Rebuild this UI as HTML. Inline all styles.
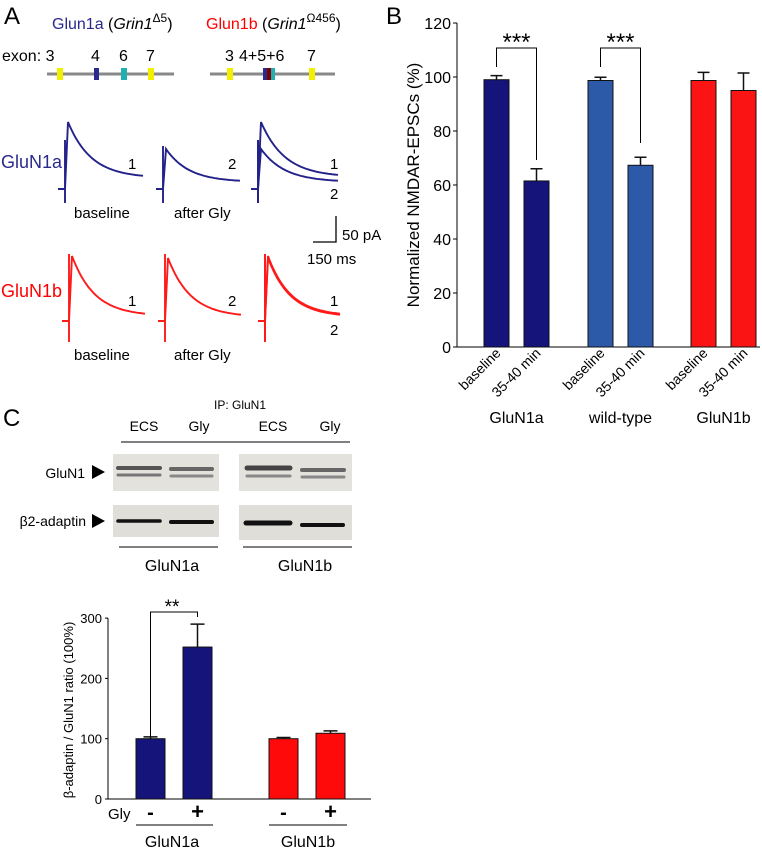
<!DOCTYPE html>
<html><head><meta charset="utf-8"><style>
body{margin:0;background:#fff}
svg{display:block;font-family:"Liberation Sans",Arial,sans-serif}
</style></head><body>
<svg id="fig" width="762" height="854" viewBox="0 0 762 854" xmlns="http://www.w3.org/2000/svg">
<g>
<text x="4" y="24" font-size="24">A</text>
<text x="52" y="29" font-size="16"><tspan fill="#2a2a8c">Glun1a</tspan> (<tspan font-style="italic">Grin1</tspan><tspan dy="-7" font-size="12">Δ5</tspan><tspan dy="7">)</tspan></text>
<text x="206" y="29" font-size="16"><tspan fill="#f00">Glun1b</tspan> (<tspan font-style="italic">Grin1</tspan><tspan dy="-7" font-size="12">Ω456</tspan><tspan dy="7">)</tspan></text>
<text x="2" y="61" font-size="16">exon: 3</text>
<text x="91" y="61" font-size="16">4</text><text x="119" y="61" font-size="16">6</text><text x="146" y="61" font-size="16">7</text>
<text x="225" y="61" font-size="16">3</text><text x="239" y="61" font-size="16">4+5+6</text><text x="307" y="61" font-size="16">7</text>
<line x1="47" y1="74" x2="174" y2="74" stroke="#888" stroke-width="3"/>
<line x1="210" y1="74" x2="335" y2="74" stroke="#888" stroke-width="3"/>
<rect x="57" y="68" width="6" height="12" fill="#f0f000"/><rect x="94" y="68" width="5" height="12" fill="#2a2a8c"/><rect x="121" y="68" width="6" height="12" fill="#20b0b0"/><rect x="148" y="68" width="6" height="12" fill="#f0f000"/>
<rect x="227" y="68" width="6" height="12" fill="#f0f000"/><rect x="263" y="68" width="4" height="12" fill="#2a2a8c"/><rect x="267" y="68" width="4" height="12" fill="#800000"/><rect x="271" y="68" width="4" height="12" fill="#20b0b0"/><rect x="309" y="68" width="6" height="12" fill="#f0f000"/>
<text x="1" y="168" font-size="18" fill="#2a2a8c">GluN1a</text>
<text x="1" y="297" font-size="18" fill="#f00">GluN1b</text>
<g id="traces" fill="none" stroke-width="1.9"></g>
<g font-size="15">
<text x="128" y="169">1</text><text x="228" y="169">2</text><text x="330" y="169">1</text><text x="330" y="199">2</text>
<text x="74" y="218">baseline</text><text x="174" y="218">after Gly</text>
<text x="128" y="306">1</text><text x="228" y="306">2</text><text x="330" y="306">1</text><text x="330" y="335">2</text>
<text x="74" y="360">baseline</text><text x="174" y="360">after Gly</text>
<text x="342" y="240">50 pA</text>
<text x="307" y="264">150 ms</text>
</g>
<path d="M336 216 V242 H313" fill="none" stroke="#000" stroke-width="1.3"/>
</g>
<g>
<text x="386" y="24" font-size="24">B</text>
<g id="chartB"></g>
</g>
<g>
<text x="3" y="426" font-size="24">C</text>
<text x="240" y="409" font-size="12" text-anchor="middle">IP: GluN1</text>
<g font-size="14" text-anchor="middle"><text x="144" y="431">ECS</text><text x="199" y="431">Gly</text><text x="273" y="431">ECS</text><text x="330" y="431">Gly</text></g>
<line x1="121" y1="442" x2="350" y2="442" stroke="#000"/>
<g>
<rect x="113" y="454" width="106" height="37" fill="#e4e2dc"/><rect x="239" y="454" width="113" height="37" fill="#e4e2dc"/>
<rect x="113" y="505" width="106" height="32" fill="#e0ded8"/><rect x="239" y="505" width="113" height="35" fill="#e0ded8"/>
<g stroke="#333" stroke-linecap="round">
<line x1="118" y1="468" x2="160" y2="468" stroke-width="4" stroke="#555"/><line x1="118" y1="475" x2="160" y2="475" stroke-width="3" stroke="#777"/>
<line x1="171" y1="469" x2="212" y2="469" stroke-width="4" stroke="#666"/><line x1="171" y1="476" x2="212" y2="476" stroke-width="3" stroke="#888"/>
<line x1="247" y1="468" x2="290" y2="468" stroke-width="5" stroke="#444"/><line x1="247" y1="476" x2="290" y2="476" stroke-width="3" stroke="#888"/>
<line x1="302" y1="470" x2="344" y2="470" stroke-width="4" stroke="#666"/><line x1="302" y1="477" x2="344" y2="477" stroke-width="3" stroke="#888"/>
<line x1="118" y1="521" x2="160" y2="521" stroke-width="3.5" stroke="#111"/><line x1="171" y1="522" x2="212" y2="522" stroke-width="4" stroke="#111"/>
<line x1="246" y1="523" x2="290" y2="523" stroke-width="5" stroke="#111"/><line x1="302" y1="525" x2="343" y2="525" stroke-width="4" stroke="#111"/>
</g></g>
<g font-size="14" text-anchor="end"><text x="85" y="478">GluN1</text><text x="86" y="526">β2-adaptin</text></g>
<path d="M92 465 L105 472 L92 479Z M92 514 L105 521 L92 528Z"/>
<line x1="119" y1="547" x2="218" y2="547" stroke="#000"/><line x1="243" y1="547" x2="352" y2="547" stroke="#000"/>
<g font-size="16" text-anchor="middle"><text x="172" y="571">GluN1a</text><text x="305" y="571">GluN1b</text></g>
<g id="chartC"></g>
</g>
</svg>
<script>
const NS="http://www.w3.org/2000/svg";
function mk(parent,tag,attrs,text){const e=document.createElementNS(NS,tag);for(const k in attrs)e.setAttribute(k,attrs[k]);if(text!==undefined)e.textContent=text;parent.appendChild(e);return e;}
const tr=document.getElementById('traces');
function trace(x0,base,peak,endY,endX,col,lo,hi){
  let d=`M${x0-7} ${base} H${x0} M${x0} ${hi} V${lo} M${x0} ${base} L${x0+3} ${peak}`;
  const n=40;
  for(let i=0;i<=n;i++){const t=i/n;const x=x0+3+t*(endX-x0-3);const y=endY-(endY-peak)*Math.exp(-t*3.2)*(1-0.04*t);d+=` L${x.toFixed(1)} ${y.toFixed(1)}`;}
  const p=mk(tr,'path',{d:d,stroke:col});
  
  
}
const B='#22228a',R='#ff1a1a';
trace(65,189,122,178,143,B,140,203);
trace(163,189,149,182,240,B,146,203);
trace(258,189,122,177,338,B,140,203);
trace(258,189,149,182,338,B,140,203);
trace(69,321,256,316,145,R,254,342);
trace(165,321,258,317,241,R,254,342);
trace(265,321,256,316,340,R,254,342);
trace(265,321,258,317,340,R,254,342);

const bCats=['baseline','35-40 min','baseline','35-40 min','baseline','35-40 min'];
const bVals=[99,61.5,98.7,67.3,98.7,95];
const bErr=[1.5,4.5,1.2,3,3,6.5];
const bTicks=[0,20,40,60,80,100,120];
const bGroups=['GluN1a','wild-type','GluN1b'];
const bColors=['#14147a','#14147a','#2d5aa8','#2d5aa8','#fb1414','#fb1414'];
const gB=document.getElementById('chartB');
const byS=v=>347-v*2.7;
const bxL=[484,524,588,628,691,731];
mk(gB,'line',{x1:457,y1:23,x2:457,y2:347,stroke:'#000'});
mk(gB,'line',{x1:457,y1:347,x2:760,y2:347,stroke:'#000'});
bTicks.forEach(t=>{mk(gB,'line',{x1:453,y1:byS(t),x2:457,y2:byS(t),stroke:'#000'});mk(gB,'text',{x:451,y:byS(t)+6,'font-size':16,'text-anchor':'end'},t);});
bVals.forEach((v,i)=>{
  const x=bxL[i],w=25,cx=x+w/2;
  const r=mk(gB,'rect',{x:x,y:byS(v),width:w,height:byS(0)-byS(v),fill:bColors[i],stroke:'#111','stroke-width':1});
  
  
  mk(gB,'path',{d:`M${cx} ${byS(v)} V${byS(v+bErr[i])} M${cx-6} ${byS(v+bErr[i])} H${cx+6}`,stroke:'#111','stroke-width':1.5,fill:'none'});
  mk(gB,'text',{x:cx+5,y:354,'font-size':14,'text-anchor':'end',transform:`rotate(-45 ${cx+5} 354)`},bCats[i]);
});
bGroups.forEach((g,k)=>{const t=mk(gB,'text',{x:(bxL[2*k]+bxL[2*k+1]+25)/2,y:423,'font-size':16,'text-anchor':'middle'},g);});
[[0,1,160],[2,3,143]].forEach(([a,b,ry])=>{const xa=bxL[a]+12.5,xb=bxL[b]+12.5;
  mk(gB,'path',{d:`M${xa} 67 V48 H${xb} V${ry}`,fill:'none',stroke:'#000','stroke-width':1});
  mk(gB,'text',{x:(xa+xb)/2,y:50,'font-size':24,'text-anchor':'middle'},'***');});
const yt=mk(gB,'text',{x:0,y:0,'font-size':17,'text-anchor':'middle',transform:'translate(419 185) rotate(-90)'},'Normalized NMDAR-EPSCs (%)');


const cVals=[100,252,100,109];
const cErr=[3,38,2,4];
const cTicks=[0,100,200,300];
const cGly=['-','+','-','+'];
const cColors=['#14147a','#14147a','#ff0a0a','#ff0a0a'];
const gC=document.getElementById('chartC');
const cyS=v=>799-v*0.603;
const cxL=[136,183,269,316];
mk(gC,'line',{x1:108,y1:cyS(300),x2:108,y2:799,stroke:'#000'});
mk(gC,'line',{x1:108,y1:799,x2:371,y2:799,stroke:'#000'});
cTicks.forEach(t=>{mk(gC,'line',{x1:105,y1:cyS(t),x2:108,y2:cyS(t),stroke:'#000'});mk(gC,'text',{x:102,y:cyS(t)+5,'font-size':13,'text-anchor':'end'},t);});
cVals.forEach((v,i)=>{
  const x=cxL[i],w=29,cx=x+w/2;
  const r=mk(gC,'rect',{x:x,y:cyS(v),width:w,height:799-cyS(v),fill:cColors[i],stroke:'#111','stroke-width':1});
  
  
  mk(gC,'path',{d:`M${cx} ${cyS(v)} V${cyS(v+cErr[i])} M${cx-7} ${cyS(v+cErr[i])} H${cx+7}`,stroke:'#111','stroke-width':1.5,fill:'none'});
  mk(gC,'text',{x:cx,y:819,'font-size':i%2?22:20,'font-weight':'bold','text-anchor':'middle'},cGly[i]);
});
mk(gC,'text',{x:108,y:819,'font-size':15},'Gly');
mk(gC,'path',{d:`M${cxL[0]+14.5} 737 V612 H${cxL[1]+14.5} V617`,fill:'none',stroke:'#000'});
mk(gC,'text',{x:172,y:613,'font-size':19,'text-anchor':'middle'},'**');
mk(gC,'line',{x1:136,y1:825,x2:213,y2:825,stroke:'#000'});
mk(gC,'line',{x1:269,y1:825,x2:347,y2:825,stroke:'#000'});
mk(gC,'text',{x:172,y:847,'font-size':16,'text-anchor':'middle'},'GluN1a');
mk(gC,'text',{x:308,y:847,'font-size':16,'text-anchor':'middle'},'GluN1b');
const yc=mk(gC,'text',{x:0,y:0,'font-size':13,'text-anchor':'middle',transform:'translate(73 710) rotate(-90)'},'β-adaptin / GluN1 ratio (100%)');

</script>
</body></html>
